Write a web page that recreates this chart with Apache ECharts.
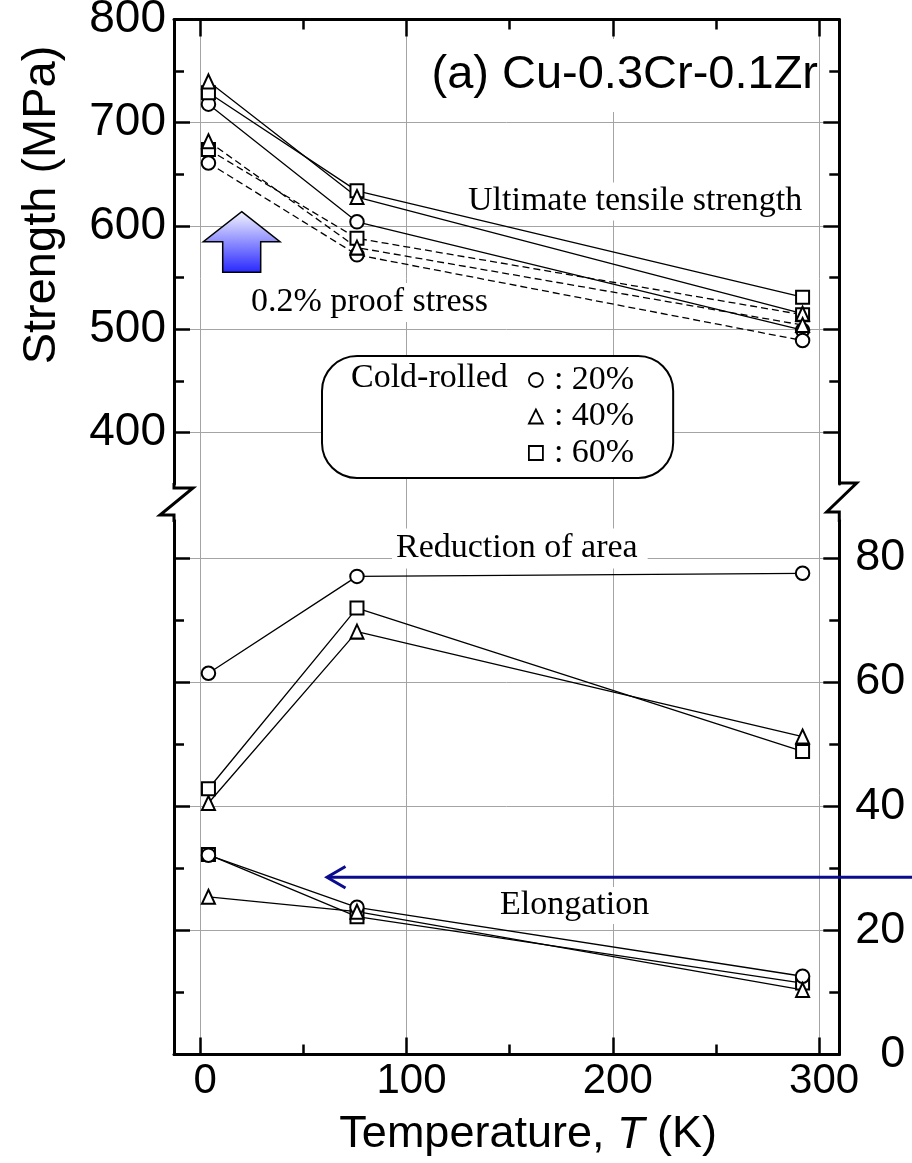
<!DOCTYPE html>
<html>
<head>
<meta charset="utf-8">
<script src="https://cdn.jsdelivr.net/npm/echarts@6/dist/echarts.min.js"></script>
<style>
  html, body { margin: 0; padding: 0; background: #fff; }
  #chart { width: 912px; height: 1163px; }
</style>
</head>
<body>
<div id="chart"></div>
<script>
// Test temperatures (K)
const temperatures = [4, 76, 292];

// Ultimate tensile strength (MPa) by cold-rolling reduction
const utsCR20 = [718, 604, 499];
const utsCR40 = [740, 628, 515];
const utsCR60 = [729, 634, 531];

// 0.2% proof stress (MPa)
const proofCR20 = [661, 572, 489];
const proofCR40 = [682, 579, 504];
const proofCR60 = [674, 588, 514];

// Reduction of area (%)
const raCR20 = [61.4, 77.0, 77.5];
const raCR40 = [40.5, 68.1, 51.2];
const raCR60 = [42.8, 71.9, 48.8];

// Elongation (%)
const elCR20 = [32.1, 23.7, 12.6];
const elCR40 = [25.4, 23.0, 10.4];
const elCR60 = [32.2, 22.2, 11.5];

// Tick positions
const tempMajor = [0, 100, 200, 300];
const tempMinor = [50, 150, 250];
const strengthMajor = [400, 500, 600, 700];
const strengthMinor = [450, 550, 650, 750];
const strengthLabels = [400, 500, 600, 700, 800];
const ductMajor = [20, 40, 60, 80];
const ductMinor = [10, 30, 50, 70];
const ductLabels = [0, 20, 40, 60, 80];

const SANS = '"Liberation Sans", Arial, sans-serif';
const SERIF = '"Liberation Serif", "Times New Roman", serif';
const INK = '#000';
const GRIDGRAY = '#a4a4a4';
const NAVY = '#0b0b8f';

const xRange = { min: -12.7, max: 309.8 };

function spine(show) {
  return { show: show, onZero: false, lineStyle: { color: INK, width: 3 } };
}
function ticks(values, len, show) {
  return { show: show !== false, inside: true, length: len, customValues: values,
           lineStyle: { color: INK, width: 2.5 } };
}
function noLabel() { return { show: false }; }
function noSplit() { return { show: false }; }

const xAxes = [
  // upper panel, top edge
  { gridIndex: 0, type: 'value', position: 'top', ...xRange,
    axisLine: spine(true), axisTick: ticks(tempMajor, 17), axisLabel: noLabel(), splitLine: noSplit() },
  { gridIndex: 0, type: 'value', position: 'top', ...xRange,
    axisLine: spine(false), axisTick: ticks(tempMinor, 10), axisLabel: noLabel(), splitLine: noSplit() },
  // lower panel, bottom edge with labels and title
  { gridIndex: 1, type: 'value', position: 'bottom', ...xRange,
    axisLine: spine(true), axisTick: ticks(tempMajor, 17),
    axisLabel: { show: true, customValues: tempMajor, margin: 4, color: INK,
                 fontFamily: SANS, fontSize: 42, lineHeight: 46, padding: [0, 0, 0, 10] },
    splitLine: noSplit(),
    name: 'Temperature, {it|T} (K)', nameLocation: 'middle', nameGap: 57.5,
    nameTextStyle: { color: INK, fontFamily: SANS, fontSize: 45, lineHeight: 46, padding: [0, 0, 0, 43],
                     rich: { it: { fontStyle: 'italic', fontFamily: SANS, fontSize: 45, lineHeight: 46, color: INK } } } },
  { gridIndex: 1, type: 'value', position: 'bottom', ...xRange,
    axisLine: spine(false), axisTick: ticks(tempMinor, 10), axisLabel: noLabel(), splitLine: noSplit() },
  // full-height vertical grid lines
  { gridIndex: 2, type: 'value', position: 'bottom', ...xRange,
    axisLine: spine(false), axisTick: ticks(tempMajor, 1, false), axisLabel: noLabel(),
    splitLine: { show: true, lineStyle: { color: GRIDGRAY, width: 1 } } }
];

const strengthRange = { min: 350, max: 800 };
const ductRange = { min: 0, max: 86 };

const yAxes = [
  // 0: upper left (strength)
  { gridIndex: 0, type: 'value', position: 'left', ...strengthRange,
    axisLine: spine(true), axisTick: ticks(strengthMajor, 16),
    axisLabel: { show: true, customValues: strengthLabels, margin: 8, color: INK,
                 fontFamily: SANS, fontSize: 46, padding: [8, 0, 0, 0] },
    splitLine: { show: true, lineStyle: { color: GRIDGRAY, width: 1 } } },
  { gridIndex: 0, type: 'value', position: 'left', ...strengthRange,
    axisLine: spine(false), axisTick: ticks(strengthMinor, 10), axisLabel: noLabel(), splitLine: noSplit() },
  { gridIndex: 0, type: 'value', position: 'right', ...strengthRange,
    axisLine: spine(true), axisTick: ticks(strengthMajor, 16), axisLabel: noLabel(), splitLine: noSplit() },
  { gridIndex: 0, type: 'value', position: 'right', ...strengthRange,
    axisLine: spine(false), axisTick: ticks(strengthMinor, 10), axisLabel: noLabel(), splitLine: noSplit() },
  // 4: lower left (ductility)
  { gridIndex: 1, type: 'value', position: 'left', ...ductRange,
    axisLine: spine(true), axisTick: ticks(ductMajor, 16), axisLabel: noLabel(),
    splitLine: { show: true, lineStyle: { color: GRIDGRAY, width: 1 } } },
  { gridIndex: 1, type: 'value', position: 'left', ...ductRange,
    axisLine: spine(false), axisTick: ticks(ductMinor, 10), axisLabel: noLabel(), splitLine: noSplit() },
  // 6: lower right, labels right-aligned against the page edge
  { gridIndex: 1, type: 'value', position: 'right', ...ductRange,
    axisLine: spine(true), axisTick: ticks(ductMajor, 16),
    axisLabel: { show: true, customValues: ductLabels, margin: 66, align: 'right', color: INK,
                 fontFamily: SANS, fontSize: 45 },
    splitLine: noSplit() },
  { gridIndex: 1, type: 'value', position: 'right', ...ductRange,
    axisLine: spine(false), axisTick: ticks(ductMinor, 10), axisLabel: noLabel(), splitLine: noSplit() },
  // 8: helper for the full-height grid
  { gridIndex: 2, type: 'value', min: 0, max: 1,
    axisLine: spine(false), axisTick: { show: false }, axisLabel: noLabel(), splitLine: noSplit() }
];

function curve(name, values, panel, symbol, size, dashed) {
  return {
    type: 'line',
    name: name,
    xAxisIndex: panel === 'upper' ? 0 : 2,
    yAxisIndex: panel === 'upper' ? 0 : 4,
    data: temperatures.map((t, i) => [t, values[i]]),
    symbol: symbol,
    symbolSize: size,
    showAllSymbol: true,
    lineStyle: { color: INK, width: 1.3, type: dashed ? [7, 4] : 'solid' },
    itemStyle: { color: '#fff', borderColor: INK, borderWidth: 2 },
    emphasis: { disabled: true },
    z: 2
  };
}

const CIRCLE = 13.5, SQUARE = 13, TRIANGLE = [13, 14];
const N20 = ': 20%', N40 = ': 40%', N60 = ': 60%';

const series = [
  curve(N20, utsCR20, 'upper', 'circle', CIRCLE, false),
  curve(N20, proofCR20, 'upper', 'circle', CIRCLE, true),
  curve(N60, utsCR60, 'upper', 'rect', SQUARE, false),
  curve(N60, proofCR60, 'upper', 'rect', SQUARE, true),
  curve(N40, utsCR40, 'upper', 'triangle', TRIANGLE, false),
  curve(N40, proofCR40, 'upper', 'triangle', TRIANGLE, true),

  curve(N20, raCR20, 'lower', 'circle', CIRCLE, false),
  curve(N40, raCR40, 'lower', 'triangle', TRIANGLE, false),
  curve(N60, raCR60, 'lower', 'rect', SQUARE, false),

  curve(N60, elCR60, 'lower', 'rect', SQUARE, false),
  curve(N20, elCR20, 'lower', 'circle', CIRCLE, false),
  curve(N40, elCR40, 'lower', 'triangle', TRIANGLE, false)
];

function label(text, x, y, pad) {
  return {
    type: 'text', x: x, y: y, z: 1,
    style: { text: text, font: '34px ' + SERIF, fill: INK,
             align: 'left', verticalAlign: 'middle',
             textAlign: 'left', textVerticalAlign: 'middle',
             backgroundColor: '#fff', padding: pad }
  };
}

const graphics = [
  // panel title
  { type: 'text', x: 818, y: 75.5, z: 1,
    style: { text: '(a) Cu-0.3Cr-0.1Zr', font: '47px ' + SANS, fill: INK,
             align: 'right', verticalAlign: 'middle', textAlign: 'right', textVerticalAlign: 'middle',
             backgroundColor: '#fff', padding: [18, 0, 8, 6], lineHeight: 47 } },
  // y-axis title
  { type: 'text', x: 42, y: 205, rotation: Math.PI / 2, z: 1,
    style: { text: 'Strength (MPa)', font: '47px ' + SANS, fill: INK,
             align: 'center', verticalAlign: 'middle', textAlign: 'center', textVerticalAlign: 'middle' } },
  // curve annotations
  label('Ultimate tensile strength', 464, 201.5, [2, 4, 2, 4]),
  label('0.2% proof stress', 247, 302.5, [2.5, 4, 2.5, 4]),
  label('Reduction of area', 392, 548.5, [3, 10, 3, 4]),
  label('Elongation', 496, 905.5, [1.5, 4, 1.5, 4]),
  // legend caption
  { type: 'text', x: 351, y: 378.5, z: 10,
    style: { text: 'Cold-rolled', font: '34px ' + SERIF, fill: INK,
             align: 'left', verticalAlign: 'middle', textAlign: 'left', textVerticalAlign: 'middle' } },
  // upward block arrow
  { type: 'polygon', z: 1,
    shape: { points: [[241.7, 211.7], [280, 241.7], [260.7, 241.7], [260.7, 272.3],
                      [222.7, 272.3], [222.7, 241.7], [203.3, 241.7]] },
    style: { fill: { type: 'linear', x: 0, y: 0, x2: 0, y2: 1,
                     colorStops: [{ offset: 0, color: '#f6f6ff' }, { offset: 1, color: '#2626ff' }] },
             stroke: INK, lineWidth: 1.5 } },
  // axis break marks
  { type: 'polyline', z: 10,
    shape: { points: [[174, 483], [174, 488], [193, 488], [160, 515], [174, 515], [174, 522]] },
    style: { stroke: INK, lineWidth: 3, fill: null, lineJoin: 'miter' } },
  { type: 'polyline', z: 10,
    shape: { points: [[839.3, 483], [856.7, 483], [826.7, 512], [839.3, 512], [839.3, 522]] },
    style: { stroke: INK, lineWidth: 3, fill: null, lineJoin: 'miter' } },
  // pointer to the ductility scale
  { type: 'line', z: 10, shape: { x1: 912, y1: 877.3, x2: 328, y2: 877.3 },
    style: { stroke: NAVY, lineWidth: 3 } },
  { type: 'polyline', z: 10, shape: { points: [[345.5, 866.5], [327, 877.3], [345.5, 888]] },
    style: { stroke: NAVY, lineWidth: 3, fill: null } }
];

const chart = echarts.init(document.getElementById('chart'), null, { renderer: 'canvas' });
chart.setOption({
  animation: false,
  backgroundColor: '#fff',
  textStyle: { fontFamily: SANS },
  grid: [
    { left: 174, right: 72.7, top: 19.5, height: 464.5, outerBoundsMode: 'none', containLabel: false },
    { left: 174, right: 72.7, top: 520.5, height: 534, outerBoundsMode: 'none', containLabel: false },
    { left: 174, right: 72.7, top: 19.5, height: 1035, outerBoundsMode: 'none', containLabel: false }
  ],
  xAxis: xAxes,
  yAxis: yAxes,
  legend: {
    orient: 'vertical', left: 322, top: 356,
    padding: [7, 39, 8, 206],
    itemGap: 2.5, itemWidth: 14, itemHeight: 14,
    backgroundColor: '#fff', borderColor: INK, borderWidth: 2, borderRadius: 35,
    itemStyle: { color: '#fff', borderColor: INK, borderWidth: 1.8 },
    textStyle: { fontFamily: SERIF, fontSize: 34, color: INK, lineHeight: 34, padding: [0, 0, 0, 6] },
    data: [{ name: N20, icon: 'circle' }, { name: N40, icon: 'triangle' }, { name: N60, icon: 'rect' }]
  },
  series: series,
  graphic: graphics
});
</script>
</body>
</html>
